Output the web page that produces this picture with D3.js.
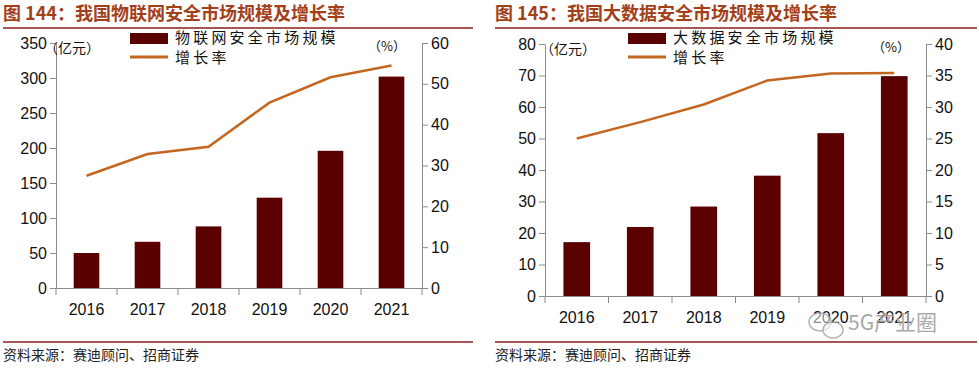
<!DOCTYPE html>
<html><head><meta charset="utf-8">
<script src="https://cdn.jsdelivr.net/npm/d3@7"></script>
<style>
body{margin:0;background:#fff;}
svg{display:block;}
text{font-family:"Liberation Sans",Arial,sans-serif;}
.cjk{font-family:"Noto Sans CJK SC",sans-serif;}
</style></head>
<body><svg id="c" width="979" height="368"></svg>
<script>
const categories = ['2016','2017','2018','2019','2020','2021'];
const iotMarket = [50, 66, 88, 129, 196, 302];
const iotGrowth = [27.5, 32.8, 34.6, 45.4, 51.6, 54.5];
const bigDataMarket = [17.1, 21.9, 28.4, 38.2, 51.7, 69.8];
const bigDataGrowth = [25.0, 27.6, 30.4, 34.2, 35.3, 35.4];
const iotLeftTicks = [0,50,100,150,200,250,300,350];
const iotRightTicks = [0,10,20,30,40,50,60];
const bdLeftTicks = [0,10,20,30,40,50,60,70,80];
const bdRightTicks = [0,5,10,15,20,25,30,35,40];
const titles = ['图 144：我国物联网安全市场规模及增长率','图 145：我国大数据安全市场规模及增长率'];
const barNames = ['物联网安全市场规模','大数据安全市场规模'];
const lineName = '增长率';
const unitLeft = '（亿元）';
const unitRight = '（%）';
const source = '资料来源：赛迪顾问、招商证券';

const BAR='#5a0000', LINE='#c4661f', AX='#8c8c8c', TITLE='#a3401a', RULE='#8b1c1c';
const svg = d3.select('#c');

function panel(o){
  const g = svg.append('g');
  g.append('text').attr('class','cjk').attr('x',o.px+3).attr('y',20)
    .attr('font-size',18).attr('font-weight','bold').attr('fill',TITLE).text(o.title);
  g.append('line').attr('x1',o.px+3).attr('x2',o.px+o.pw).attr('y1',28).attr('y2',28)
    .attr('stroke',RULE).attr('stroke-width',1.5);
  g.append('line').attr('x1',o.px+3).attr('x2',o.px+o.pw).attr('y1',342).attr('y2',342)
    .attr('stroke',RULE).attr('stroke-width',1.5);
  g.append('text').attr('class','cjk').attr('x',o.px+3).attr('y',360)
    .attr('font-size',14).attr('fill','#222').text(source);

  const x = d3.scaleBand().domain(o.cats).range([o.x0,o.x1]).padding(0);
  const yl = d3.scaleLinear().domain(o.ld).range([o.y0,o.yt]);
  const yr = d3.scaleLinear().domain(o.rd).range([o.y0,o.yt]);
  const bw = x.step()*0.42;

  g.selectAll('rect.bar').data(o.bars).enter().append('rect')
    .attr('x',(d,i)=>x(o.cats[i])+x.bandwidth()/2-bw/2)
    .attr('y',d=>yl(d)).attr('width',bw).attr('height',d=>o.y0-yl(d)).attr('fill',BAR);
  const ln = d3.line().x((d,i)=>x(o.cats[i])+x.bandwidth()/2).y(d=>yr(d));
  g.append('path').attr('d',ln(o.line)).attr('fill','none').attr('stroke',LINE).attr('stroke-width',2.5);

  const la = g.append('g').attr('transform',`translate(${o.x0},0)`)
    .call(d3.axisLeft(yl).tickValues(o.lt).tickSize(6).tickSizeOuter(0).tickPadding(3));
  const ra = g.append('g').attr('transform',`translate(${o.x1},0)`)
    .call(d3.axisRight(yr).tickValues(o.rt).tickSize(6).tickSizeOuter(0).tickPadding(3));
  const xa = g.append('g').attr('transform',`translate(0,${o.y0})`)
    .call(d3.axisBottom(x).tickSize(0).tickPadding(16));
  [la,ra,xa].forEach(a=>{
    a.selectAll('path.domain').attr('stroke',AX);
    a.selectAll('line').attr('stroke',AX);
    a.selectAll('text').attr('font-size',16).attr('fill','#111')
      .attr('font-family','"Liberation Sans",Arial,sans-serif');
  });
  const bounds = o.cats.map(c=>x(c)).concat([o.x1]);
  g.selectAll('line.xt').data(bounds).enter().append('line')
    .attr('x1',d=>d).attr('x2',d=>d).attr('y1',o.y0).attr('y2',o.y0+7).attr('stroke',AX);

  g.append('text').attr('class','cjk').attr('x',o.x0+o.ux).attr('y',o.yt+10).attr('font-size',14)
    .attr('fill','#111').text(unitLeft);
  g.append('text').attr('class','cjk').attr('x',o.x1-54).attr('y',o.yt+8).attr('font-size',13)
    .attr('fill','#111').text(unitRight);

  g.append('rect').attr('x',o.lx).attr('y',33).attr('width',38).attr('height',11).attr('fill',BAR);
  g.append('text').attr('class','cjk').attr('x',o.lx+45).attr('y',43).attr('font-size',15)
    .attr('letter-spacing',3.2).attr('fill','#111').text(o.barName);
  g.append('line').attr('x1',o.lx).attr('x2',o.lx+38).attr('y1',57).attr('y2',57)
    .attr('stroke',LINE).attr('stroke-width',3);
  g.append('text').attr('class','cjk').attr('x',o.lx+45).attr('y',63).attr('font-size',15)
    .attr('letter-spacing',3.2).attr('fill','#111').text(lineName);
}

panel({px:0,pw:473,title:titles[0],cats:categories,bars:iotMarket,line:iotGrowth,ux:-12,
  x0:56,x1:422,y0:288,yt:43,ld:[0,350],rd:[0,60],lt:iotLeftTicks,rt:iotRightTicks,lx:130,barName:barNames[0]});
panel({px:492,pw:485,title:titles[1],cats:categories,bars:bigDataMarket,line:bigDataGrowth,ux:-5,
  x0:545,x1:926,y0:296,yt:44,ld:[0,80],rd:[0,40],lt:bdLeftTicks,rt:bdRightTicks,lx:628,barName:barNames[1]});

const wm = svg.append('g').attr('opacity',0.85);
wm.append('ellipse').attr('cx',820).attr('cy',322).attr('rx',11).attr('ry',9).attr('fill','rgba(255,255,255,0.6)').attr('stroke','#aaa').attr('stroke-width',1.5);
wm.append('ellipse').attr('cx',833).attr('cy',330).attr('rx',10).attr('ry',8).attr('fill','rgba(255,255,255,0.6)').attr('stroke','#aaa').attr('stroke-width',1.5);
wm.append('text').attr('class','cjk').attr('x',848).attr('y',330).attr('font-size',21)
  .attr('fill','#9a9a9a').attr('stroke','#fff').attr('stroke-width',0.6).attr('paint-order','stroke').text('5G产业圈');
</script></body></html>
